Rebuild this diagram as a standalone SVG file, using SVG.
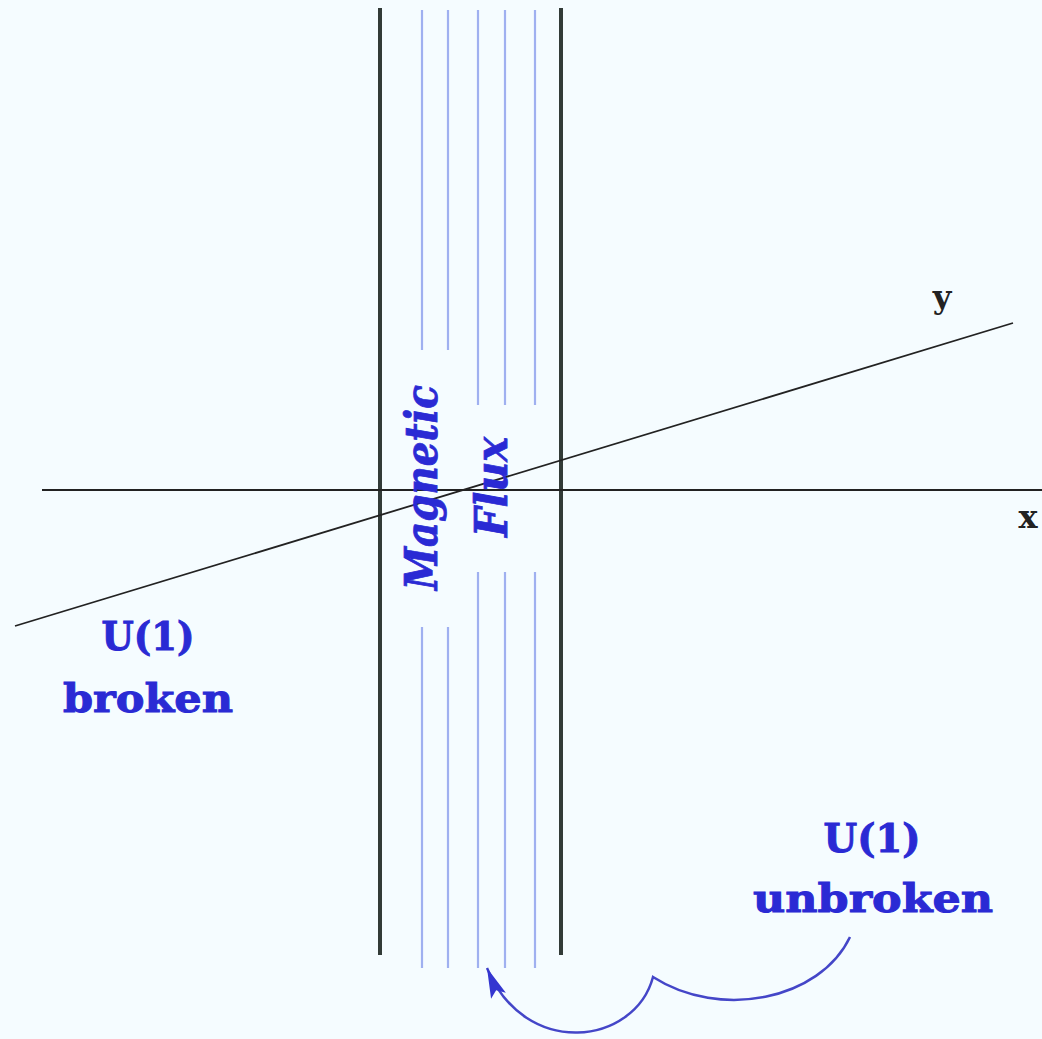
<svg xmlns="http://www.w3.org/2000/svg" width="1042" height="1039" viewBox="0 0 1042 1039">
<style>
.wall{stroke:#323b37;stroke-width:4;fill:none}
.flux{stroke:#9fb0f0;stroke-width:2.2;fill:none}
.axis{stroke:#222;stroke-width:1.8;fill:none}
.lbl{font-family:"DejaVu Serif","Liberation Serif",serif;font-weight:bold;fill:#2a2ad4;stroke:#2a2ad4;stroke-width:1}
.ax{font-family:"DejaVu Serif","Liberation Serif",serif;font-weight:bold;fill:#222;font-size:32px}
.rot{font-family:"DejaVu Serif","Liberation Serif",serif;font-weight:bold;font-style:italic;fill:#2a2ad4;stroke:#2a2ad4;stroke-width:0.8;font-size:44px}
.curve{stroke:#4446c8;stroke-width:2.5;fill:none}
</style>
<defs>
<marker id="ah" markerUnits="userSpaceOnUse" markerWidth="34" markerHeight="20" refX="30" refY="9" orient="auto" viewBox="0 0 34 18">
<path d="M0,1 L30,9 L0,17 L6,9 Z" fill="#3436d0"/>
</marker>
</defs>
<rect width="1042" height="1039" fill="#f5fcff"/>
<g id="tube">
<line class="wall" x1="380" y1="8" x2="380" y2="955"/>
<line class="wall" x1="561" y1="8" x2="561" y2="955"/>
<path class="flux" d="M422,10V350M422,627V968M448,10V350M448,627V968M478,10V405M478,572V968M505,10V405M505,572V968M535,10V405M535,572V968"/>
</g>
<g id="axes">
<line class="axis" x1="42" y1="490" x2="1042" y2="490"/>
<line class="axis" x1="15" y1="626" x2="1013" y2="323"/>
<text class="ax" x="942" y="308" text-anchor="middle">y</text>
<text class="ax" x="1028" y="528" text-anchor="middle">x</text>
</g>
<g id="magnetic-flux">
<text class="rot" transform="translate(437,590) rotate(-90)" textLength="205" lengthAdjust="spacingAndGlyphs">Magnetic</text>
<text class="rot" transform="translate(507,537) rotate(-90)" textLength="100" lengthAdjust="spacingAndGlyphs">Flux</text>
</g>
<g id="broken">
<text class="lbl" x="148" y="650" text-anchor="middle" font-size="40" textLength="93" lengthAdjust="spacingAndGlyphs">U(1)</text>
<text class="lbl" x="148" y="712" text-anchor="middle" font-size="40" textLength="170" lengthAdjust="spacingAndGlyphs">broken</text>
</g>
<g id="unbroken">
<text class="lbl" x="872" y="852" text-anchor="middle" font-size="40" textLength="97" lengthAdjust="spacingAndGlyphs">U(1)</text>
<text class="lbl" x="873" y="912" text-anchor="middle" font-size="40" textLength="240" lengthAdjust="spacingAndGlyphs">unbroken</text>
</g>
<g id="connectors">
<path class="curve" d="M850,937 C820,1000 720,1020 653,977 C635,1045 525,1060 487,968" marker-end="url(#ah)"/>
</g>
</svg>
